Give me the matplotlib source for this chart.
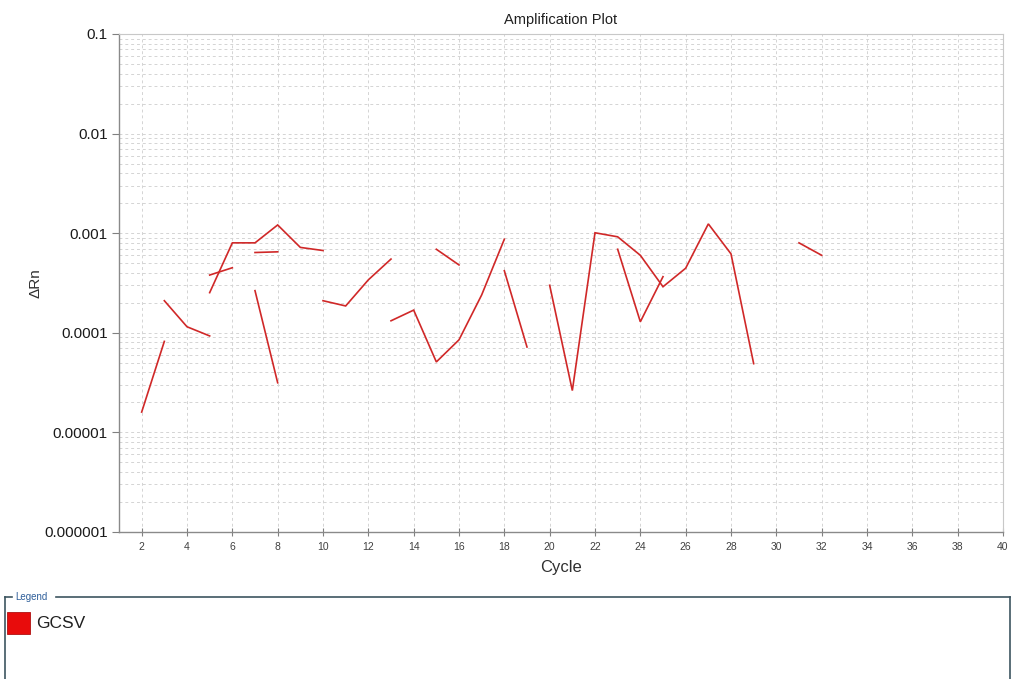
import matplotlib
matplotlib.use("Agg")
import matplotlib.pyplot as plt
from matplotlib.lines import Line2D
from matplotlib.patches import Rectangle
import numpy as np

plt.rcParams['font.family'] = ['Liberation Sans', 'DejaVu Sans']

# delta Rn per well, each well starting at the given cycle
# (cycles with non-positive delta Rn are not drawn on a log axis)
well_starts = [2, 3, 5, 5, 7, 7, 10, 13, 15, 18, 20, 23, 31]
well_drn = [
    [1.6e-5, 8.2e-5],
    [2.1e-4, 1.15e-4, 9.3e-5],
    [2.53e-4, 8.0e-4, 8.0e-4, 1.21e-3, 7.2e-4, 6.7e-4],
    [3.8e-4, 4.5e-4],
    [6.4e-4, 6.5e-4],
    [2.65e-4, 3.15e-5],
    [2.1e-4, 1.86e-4, 3.4e-4, 5.5e-4],
    [1.32e-4, 1.69e-4, 5.1e-5, 8.5e-5, 2.4e-4, 8.7e-4],
    [6.9e-4, 4.8e-4],
    [4.2e-4, 7.2e-5],
    [3.0e-4, 2.63e-5, 1.01e-3, 9.2e-4, 6.0e-4, 2.9e-4, 4.45e-4, 1.24e-3, 6.2e-4, 4.9e-5],
    [6.9e-4, 1.29e-4, 3.66e-4],
    [8.0e-4, 6.0e-4],
]
target_name = "GCSV"

x_ticks = list(range(2, 41, 2))
y_ticks = [1e-6, 1e-5, 1e-4, 1e-3, 1e-2, 1e-1]
y_tick_labels = ["0.000001", "0.00001", "0.0001", "0.001", "0.01", "0.1"]

W, H = 1015, 679
fig = plt.figure(figsize=(W / 100, H / 100), dpi=100)
ax = fig.add_axes([119 / W, 1 - 532 / H, 884 / W, 498 / H])

for start, vals in zip(well_starts, well_drn):
    cyc = np.arange(start, start + len(vals))
    ax.plot(cyc, vals, color='#d02828', linewidth=1.2, solid_joinstyle='miter')

ax.set_yscale('log')
ax.set_xlim(1, 40)
ax.set_ylim(1e-6, 1e-1)
ax.set_xticks(x_ticks)
ax.set_yticks(y_ticks)
ax.set_yticklabels(y_tick_labels)
ax.yaxis.set_minor_locator(matplotlib.ticker.LogLocator(base=10, subs=np.arange(2, 10)))
ax.yaxis.set_minor_formatter(matplotlib.ticker.NullFormatter())
ax.tick_params(axis='y', which='minor', length=0)
ax.tick_params(axis='y', which='major', direction='out', length=5, width=0.8,
               color='#808080', labelsize=11, labelcolor='#1a1a1a', pad=3)
ax.tick_params(axis='x', direction='inout', length=6, width=0.8,
               color='#808080', labelsize=7.5, labelcolor='#404040', pad=4)

ax.grid(True, which='major', axis='x', linestyle=(0, (3, 3)), color='#d4d4d4', linewidth=0.7)
ax.grid(True, which='both', axis='y', linestyle=(0, (3, 3)), color='#d4d4d4', linewidth=0.7)

for side in ('left', 'bottom'):
    ax.spines[side].set_color('#8a8a8a')
    ax.spines[side].set_linewidth(1.0)
for side in ('top', 'right'):
    ax.spines[side].set_color('#c8c8c8')
    ax.spines[side].set_linewidth(0.8)

ax.set_title("Amplification Plot", fontsize=10.5, color='#202020', pad=7)
ax.set_xlabel("Cycle", fontsize=12, color='#303030', labelpad=6)
ax.set_ylabel("ΔRn", fontsize=11, color='#303030', labelpad=1)

# legend panel along the bottom
frame_color = '#3d5560'

def fx(px):
    return px / W

def fy(py):
    return 1 - py / H

fig.add_artist(Line2D([fx(5), fx(12)], [fy(597), fy(597)], color=frame_color, linewidth=1.2))
fig.add_artist(Line2D([fx(56), fx(1010)], [fy(597), fy(597)], color=frame_color, linewidth=1.2))
fig.add_artist(Line2D([fx(5), fx(5)], [fy(597), fy(690)], color=frame_color, linewidth=1.2))
fig.add_artist(Line2D([fx(1010), fx(1010)], [fy(597), fy(690)], color=frame_color, linewidth=1.2))
fig.text(fx(15), fy(597), "Legend", fontsize=7, color='#2f5f9a', va='center', ha='left')

fig.add_artist(Rectangle((fx(7), fy(634)), 23 / W, 22 / H, facecolor='#e80c0c',
                         edgecolor='#b01010', linewidth=0.6, transform=fig.transFigure))
fig.text(fx(36), fy(623), target_name, fontsize=12.5, color='#202020', va='center', ha='left')

fig.savefig("out.png", dpi=100)
